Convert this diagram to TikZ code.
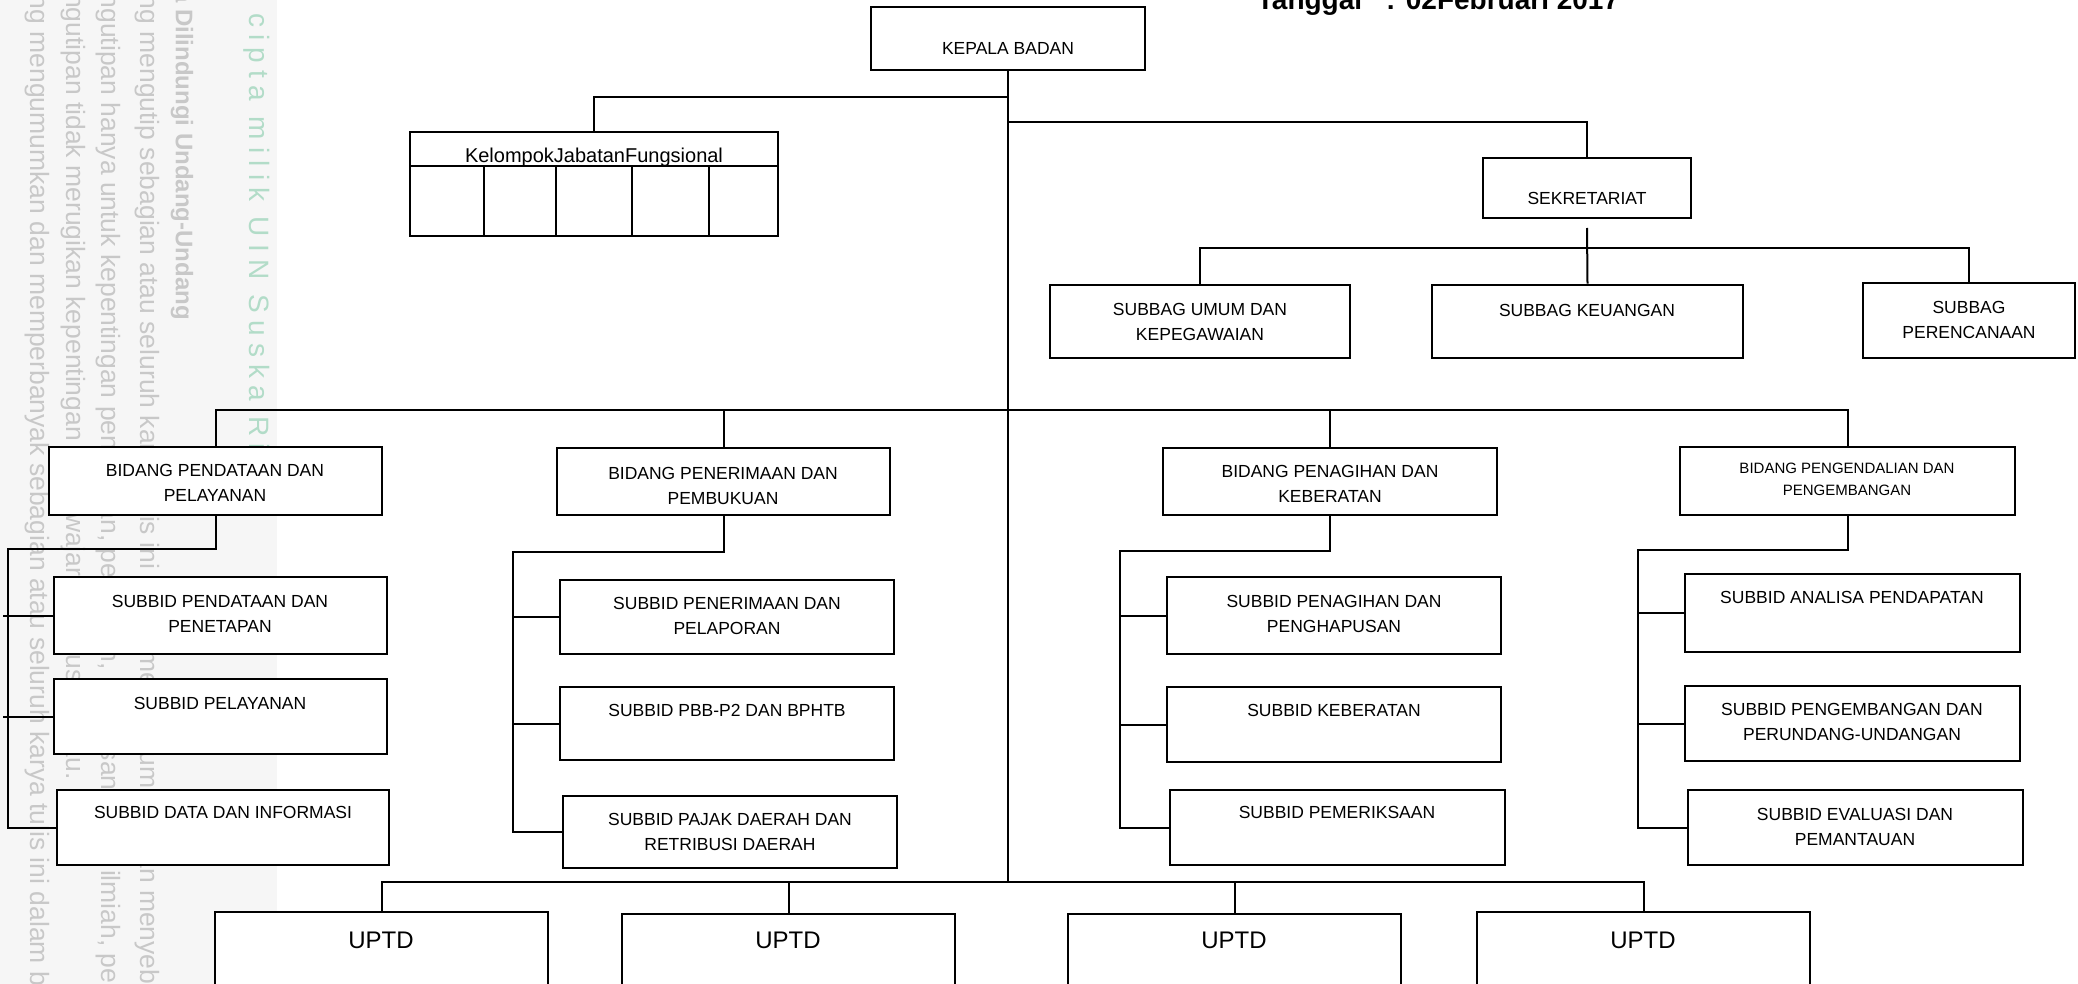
\documentclass[tikz,border=0pt]{standalone}
\usepackage{fontspec}
\setmainfont{Liberation Sans}
\newfontfamily\wmfont[LetterSpace=26]{Liberation Sans}
\usetikzlibrary{fit}
\definecolor{wmgray}{RGB}{200,200,200}
\definecolor{wmgreen}{RGB}{178,220,200}
\definecolor{wmband}{RGB}{246,246,246}

\begin{document}
\begin{tikzpicture}[x=1pt, y=-1pt]

    \tikzset{box/.style={draw, line width=2.6pt, fill=white, inner sep=0pt},
             conn/.style={line width=2pt},
             txt/.style={inner sep=0pt, align=center, font=\fontsize{17.5}{25}\selectfont},
             smalltxt/.style={inner sep=0pt, align=center, font=\fontsize{15}{22}\selectfont},
             bigtxt/.style={inner sep=0pt, font=\fontsize{24}{28}\selectfont},
             wm/.style={inner sep=0pt, rotate=-90, text=wmgray, font=\fontsize{26.5}{30}\selectfont}}

    \clip (0,0) rectangle (2078,984);
    \fill[wmband] (0,0) rectangle (277,984);

    % Watermark.
    \node[wm, text=wmgreen, anchor=west, font=\wmfont\fontsize{28}{30}\selectfont] (wm0) at (257,13) {\llap{Hak }cipta milik UIN Suska Riau};
    \node[wm, anchor=east, font=\bfseries\fontsize{24}{28}\selectfont] (wm1) at (182,320) {Hak Cipta Dilindungi Undang-Undang};
    \node[wm, anchor=west] (wm2) at (147,488) {\llap{1. Dilarang mengutip sebagian atau seluruh karya }tulis ini tanpa mencantumkan dan menyebutkan sumber:};
    \node[wm, anchor=west] (wm3) at (108,870) {\llap{a. Pengutipan hanya untuk kepentingan pendidikan, penelitian, penulisan karya }ilmiah, penyusunan laporan, penulisan kritik atau tinjauan suatu masalah.};
    \node[wm, anchor=east] (wm4) at (73,780) {b. Pengutipan tidak merugikan kepentingan yang wajar UIN Suska Riau.};
    \node[wm, anchor=west] (wm5) at (37,637) {\llap{2. Dilarang mengumumkan dan memperbanyak sebagian atau }seluruh karya tulis ini dalam bentuk apapun tanpa izin UIN Suska Riau.};

    \node[inner sep=0pt, anchor=base, font=\bfseries\fontsize{28}{30}\selectfont] (tanggal) at (1438,10) {Tanggal\hspace{24pt}: 02Februari 2017};

    % Kotak.
    \node[box, fit={(871,7) (1145,70)}] (kepala) {};
    \node[box, fit={(410,132) (778,236)}] (kelompok) {};
    \node[box, fit={(1483,158) (1691,218)}] (sekretariat) {};
    \node[box, fit={(1050,285) (1350,358)}] (umum) {};
    \node[box, fit={(1432,285) (1743,358)}] (keuangan) {};
    \node[box, fit={(1863,283) (2075,358)}] (perencanaan) {};

    \node[box, fit={(49,447) (382,515)}] (bidang1) {};
    \node[box, fit={(557,448) (890,515)}] (bidang2) {};
    \node[box, fit={(1163,448) (1497,515)}] (bidang3) {};
    \node[box, fit={(1680,447) (2015,515)}] (bidang4) {};

    \node[box, fit={(54,577) (387,654)}] (sub1a) {};
    \node[box, fit={(54,679) (387,754)}] (sub1b) {};
    \node[box, fit={(57,790) (389,865)}] (sub1c) {};
    \node[box, fit={(560,580) (894,654)}] (sub2a) {};
    \node[box, fit={(560,687) (894,760)}] (sub2b) {};
    \node[box, fit={(563,796) (897,868)}] (sub2c) {};
    \node[box, fit={(1167,577) (1501,654)}] (sub3a) {};
    \node[box, fit={(1167,687) (1501,762)}] (sub3b) {};
    \node[box, fit={(1170,790) (1505,865)}] (sub3c) {};
    \node[box, fit={(1685,574) (2020,652)}] (sub4a) {};
    \node[box, fit={(1685,686) (2020,761)}] (sub4b) {};
    \node[box, fit={(1688,790) (2023,865)}] (sub4c) {};

    \node[box, fit={(215,912) (548,1010)}] (uptd1) {};
    \node[box, fit={(622,914) (955,1010)}] (uptd2) {};
    \node[box, fit={(1068,914) (1401,1010)}] (uptd3) {};
    \node[box, fit={(1477,912) (1810,1010)}] (uptd4) {};

    % Tabel jabatan fungsional.
    \draw[line width=2.6pt] (410,166) -- (778,166);
    \foreach \cx in {484,556,632,709}
        \draw[line width=2.6pt] (\cx,166) -- (\cx,236);

    % Teks.
    \node[txt] (kepala-t) at (1008,48) {KEPALA BADAN};
    \node[inner sep=0pt, anchor=base, font=\fontsize{20}{24}\selectfont] (kelompok-t) at (594,163) {KelompokJabatanFungsional};
    \node[txt] (sekretariat-t) at (1587,198) {SEKRETARIAT};
    \node[txt] (umum-t) at (1200,321.5) {SUBBAG UMUM DAN\\KEPEGAWAIAN};
    \node[txt] (keuangan-t) at (1587,310) {SUBBAG KEUANGAN};
    \node[txt] (perencanaan-t) at (1969,319.5) {SUBBAG\\PERENCANAAN};

    \node[txt] (bidang1-t) at (215,483) {BIDANG PENDATAAN DAN\\PELAYANAN};
    \node[txt] (bidang2-t) at (723,485.5) {BIDANG PENERIMAAN DAN\\PEMBUKUAN};
    \node[txt] (bidang3-t) at (1330,484) {BIDANG PENAGIHAN DAN\\KEBERATAN};
    \node[smalltxt] (bidang4-t) at (1847,479.5) {BIDANG PENGENDALIAN DAN\\PENGEMBANGAN};

    \node[txt] (sub1a-t) at (220,613.5) {SUBBID PENDATAAN DAN\\PENETAPAN};
    \node[txt] (sub1b-t) at (220,703.5) {SUBBID PELAYANAN};
    \node[txt] (sub1c-t) at (223,812.5) {SUBBID DATA DAN INFORMASI};
    \node[txt] (sub2a-t) at (727,615.5) {SUBBID PENERIMAAN DAN\\PELAPORAN};
    \node[txt] (sub2b-t) at (727,710) {SUBBID PBB-P2 DAN BPHTB};
    \node[txt] (sub2c-t) at (730,832) {SUBBID PAJAK DAERAH DAN\\RETRIBUSI DAERAH};
    \node[txt] (sub3a-t) at (1334,613.5) {SUBBID PENAGIHAN DAN\\PENGHAPUSAN};
    \node[txt] (sub3b-t) at (1334,710) {SUBBID KEBERATAN};
    \node[txt] (sub3c-t) at (1337,812.5) {SUBBID PEMERIKSAAN};
    \node[txt] (sub4a-t) at (1852,597.5) {SUBBID ANALISA PENDAPATAN};
    \node[txt] (sub4b-t) at (1852,722) {SUBBID PENGEMBANGAN DAN\\PERUNDANG-UNDANGAN};
    \node[txt] (sub4c-t) at (1855,826.5) {SUBBID EVALUASI DAN\\PEMANTAUAN};

    \node[bigtxt] (uptd1-t) at (381,940) {UPTD};
    \node[bigtxt] (uptd2-t) at (788,940) {UPTD};
    \node[bigtxt] (uptd3-t) at (1234,940) {UPTD};
    \node[bigtxt] (uptd4-t) at (1643,940) {UPTD};

    % Titik bantu garis.
    \coordinate (jfbus) at (1008,97);
    \coordinate (skbus) at (1008,122);
    \coordinate (sekbot) at (1587,228);
    \coordinate (subbus) at (1587,248);
    \coordinate (bidbus) at (1008,410);
    \coordinate (uptdbus) at (1008,882);
    \coordinate (col1) at (8,549);
    \coordinate (col1s) at (3,549);
    \coordinate (col2) at (513,552);
    \coordinate (col3) at (1120,551);
    \coordinate (col4) at (1638,550);

    \begin{scope}[every path/.style={conn}]
        \draw (kepala.south) -- (uptdbus);
        \draw (jfbus) -| (kelompok.north);
        \draw (skbus) -| (sekretariat.north);

        \draw (sekbot) -- (keuangan.north);
        \draw (umum.north) |- (subbus) -| (perencanaan.north);

        \draw (bidang1.north) |- (bidbus) -| (bidang4.north);
        \draw (bidang2.north) -- (bidang2.north |- bidbus);
        \draw (bidang3.north) -- (bidang3.north |- bidbus);

        \draw (bidang1.south) |- (col1) |- (sub1c.west);
        \draw (sub1a.west) -- (sub1a.west -| col1s);
        \draw (sub1b.west) -- (sub1b.west -| col1s);

        \draw (bidang2.south) |- (col2) |- (sub2c.west);
        \draw (sub2a.west) -- (sub2a.west -| col2);
        \draw (sub2b.west) -- (sub2b.west -| col2);

        \draw (bidang3.south) |- (col3) |- (sub3c.west);
        \draw (sub3a.west) -- (sub3a.west -| col3);
        \draw (sub3b.west) -- (sub3b.west -| col3);

        \draw (bidang4.south) |- (col4) |- (sub4c.west);
        \draw (sub4a.west) -- (sub4a.west -| col4);
        \draw (sub4b.west) -- (sub4b.west -| col4);

        \draw (uptd1.north) |- (uptdbus) -| (uptd4.north);
        \draw (uptd2.north) -- (uptd2.north |- uptdbus);
        \draw (uptd3.north) -- (uptd3.north |- uptdbus);
    \end{scope}

\end{tikzpicture}
\end{document}
